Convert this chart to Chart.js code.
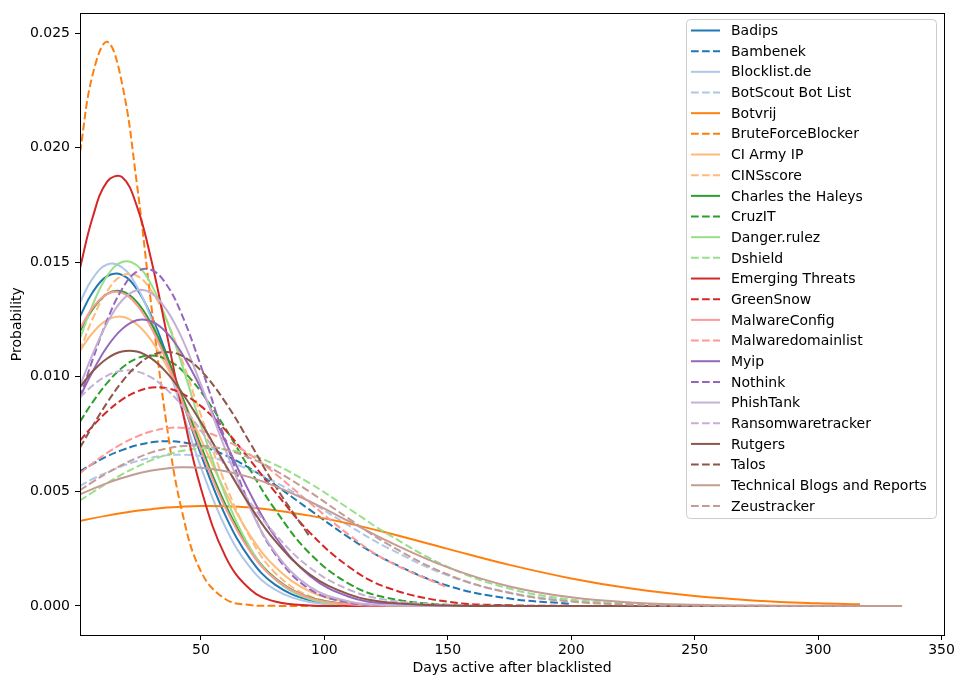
<!DOCTYPE html>
<html>
<head>
<meta charset="utf-8">
<script src="https://cdn.jsdelivr.net/npm/chart.js@4.4.0/dist/chart.umd.min.js"></script>
<style>
  html, body { margin: 0; padding: 0; background: #fff; }
  canvas { display: block; }
</style>
</head>
<body>
<canvas id="chart" width="957" height="678"></canvas>
<script>
// sample days shared by every series (a series stops where its array stops)
const days = [1, 6, 12, 18, 24, 30, 36, 42, 50, 60, 70, 80, 94, 110, 125, 150, 175, 200, 225, 250, 275, 300, 317, 334];

const names = ['Badips', 'Bambenek', 'Blocklist.de', 'BotScout Bot List', 'Botvrij', 'BruteForceBlocker',
  'CI Army IP', 'CINSscore', 'Charles the Haleys', 'CruzIT', 'Danger.rulez', 'Dshield', 'Emerging Threats',
  'GreenSnow', 'MalwareConfig', 'Malwaredomainlist', 'Myip', 'Nothink', 'PhishTank', 'Ransomwaretracker',
  'Rutgers', 'Talos', 'Technical Blogs and Reports', 'Zeustracker'];

const colors = ['#1f77b4', '#1f77b4', '#aec7e8', '#aec7e8', '#ff7f0e', '#ff7f0e', '#ffbb78', '#ffbb78',
  '#2ca02c', '#2ca02c', '#98df8a', '#98df8a', '#d62728', '#d62728', '#ff9896', '#ff9896',
  '#9467bd', '#9467bd', '#c5b0d5', '#c5b0d5', '#8c564b', '#8c564b', '#c49c94', '#c49c94'];

const badips = [0.01263, 0.01367, 0.01439, 0.01445, 0.01383, 0.01263, 0.01099, 0.00912, 0.00660, 0.00392, 0.00204, 0.00093, 0.000247, 0.00004, 0.000005, 0];
const bambenek = [0.00587, 0.00619, 0.00653, 0.00680, 0.00701, 0.00714, 0.00719, 0.00715, 0.00698, 0.00657, 0.00599, 0.00528, 0.00420, 0.00298, 0.00201, 0.00088, 0.00032, 0.00009];
const blocklist = [0.01325, 0.01427, 0.01490, 0.01478, 0.01395, 0.01251, 0.01067, 0.00865, 0.00605, 0.00341, 0.00167, 0.00071, 0.00017, 0.000024, 0.000003, 0];
const botscout = [0.00524, 0.00553, 0.00583, 0.00610, 0.00631, 0.00647, 0.00657, 0.00660, 0.00654, 0.00631, 0.00593, 0.00541, 0.00456, 0.00350, 0.00257, 0.00133, 0.000585, 0.000216, 0.000067];
const botvrij = [0.00371, 0.00382, 0.00394, 0.00405, 0.00415, 0.00422, 0.00429, 0.00433, 0.00436, 0.00435, 0.00429, 0.00417, 0.00394, 0.00359, 0.00320, 0.00249, 0.00179, 0.00120, 0.000745, 0.000429, 0.000230, 0.000114, 0.000068];
const bruteforce = [0.01980, 0.02314, 0.02462, 0.02282, 0.01846, 0.01301, 0.00799, 0.00428, 0.00150, 0.000289, 0.000038, 0.000003, 0, 0, 0];
const ciArmy = [0.01114, 0.01190, 0.01248, 0.01262, 0.01229, 0.01157, 0.01049, 0.00918, 0.00727, 0.00496, 0.00306, 0.00171, 0.000639, 0.000163, 0.000036, 0.000002, 0];
const cinsScore = [0.01113, 0.01250, 0.01374, 0.01441, 0.01441, 0.01374, 0.01250, 0.01083, 0.00832, 0.00530, 0.00297, 0.00145, 0.000428, 0.000077, 0.000011, 0];
const charles = [0.01199, 0.01293, 0.01362, 0.01373, 0.01327, 0.01229, 0.01090, 0.00926, 0.00698, 0.00440, 0.00246, 0.00122, 0.000376, 0.000074, 0.000012, 0];
const cruzit = [0.00804, 0.00887, 0.00973, 0.01039, 0.01080, 0.01093, 0.01076, 0.01032, 0.00935, 0.00773, 0.00592, 0.00421, 0.00230, 0.000966, 0.000360, 0.000047, 0.000004];
const dangerRulez = [0.01167, 0.01311, 0.01440, 0.01501, 0.01487, 0.01400, 0.01251, 0.01063, 0.00790, 0.00479, 0.00252, 0.00115, 0.000302, 0.000047, 0.000006];
const dshield = [0.00460, 0.00495, 0.00536, 0.00574, 0.00607, 0.00636, 0.00659, 0.00676, 0.00687, 0.00683, 0.00659, 0.00617, 0.00536, 0.00424, 0.00318, 0.00170, 0.000753, 0.000277, 0.000085];
const emerging = [0.01475, 0.01691, 0.01852, 0.01872, 0.01746, 0.01504, 0.01195, 0.00877, 0.00512, 0.00214, 0.000716, 0.000192, 0.000021, 0.000001, 0];
const greenSnow = [0.00721, 0.00783, 0.00848, 0.00900, 0.00935, 0.00953, 0.00950, 0.00929, 0.00872, 0.00766, 0.00635, 0.00498, 0.00321, 0.00170, 0.000816, 0.000181, 0.000028, 0.000003];
const malwareConfig = [0.01211, 0.01300, 0.01361, 0.01366, 0.01314, 0.01211, 0.01070, 0.00906, 0.00679, 0.00426, 0.00237, 0.00118, 0.000360, 0.000070, 0.000012, 0];
const malwareDomain = [0.00579, 0.00621, 0.00668, 0.00707, 0.00739, 0.00762, 0.00775, 0.00778, 0.00765, 0.00723, 0.00659, 0.00578, 0.00451, 0.00310, 0.00200, 0.000794];
const myip = [0.00913, 0.01021, 0.01131, 0.01208, 0.01247, 0.01242, 0.01194, 0.01107, 0.00949, 0.00715, 0.00489, 0.00303, 0.00132, 0.000400, 0.000104, 0.000007];
const nothink = [0.00909, 0.01071, 0.01247, 0.01382, 0.01459, 0.01466, 0.01403, 0.01278, 0.01046, 0.00720, 0.00433, 0.00227, 0.000732, 0.000145, 0.000023];
const phishTank = [0.00961, 0.01096, 0.01235, 0.01333, 0.01378, 0.01364, 0.01293, 0.01175, 0.00966, 0.00680, 0.00424, 0.00235, 0.000838, 0.000194, 0.000037, 0.000001, 0];
const ransomware = [0.00910, 0.00961, 0.01005, 0.01026, 0.01023, 0.00996, 0.00946, 0.00878, 0.00765, 0.00608, 0.00451, 0.00314, 0.00168, 0.000706, 0.000267, 0.000038, 0.000004];
const rutgers = [0.00955, 0.01022, 0.01080, 0.01110, 0.01110, 0.01079, 0.01019, 0.00936, 0.00801, 0.00614, 0.00435, 0.00285, 0.00138, 0.000503, 0.000162, 0.000017, 0.000001, 0, 0, 0, 0, 0, 0, 0];
const talos = [0.00691, 0.00783, 0.00887, 0.00978, 0.01048, 0.01093, 0.01108, 0.01093, 0.01027, 0.00887, 0.00709, 0.00525, 0.00303];
const technical = [0.00487, 0.00510, 0.00536, 0.00558, 0.00577, 0.00591, 0.00600, 0.00605, 0.00603, 0.00588, 0.00561, 0.00523, 0.00456, 0.00369, 0.00286, 0.00168, 0.000849, 0.000373, 0.000142, 0.000047, 0.000013, 0.000003, 0.000001, 0];
const zeustracker = [0.00505, 0.00540, 0.00580, 0.00615, 0.00645, 0.00670, 0.00687, 0.00697, 0.00699, 0.00682, 0.00645, 0.00592, 0.00498, 0.00380, 0.00274, 0.00137, 0.000562, 0.000191, 0.000053, 0.000012, 0.000002, 0, 0, 0];

const series = [badips, bambenek, blocklist, botscout, botvrij, bruteforce, ciArmy, cinsScore, charles, cruzit,
  dangerRulez, dshield, emerging, greenSnow, malwareConfig, malwareDomain, myip, nothink, phishTank, ransomware,
  rutgers, talos, technical, zeustracker];

const xTicks = [50, 100, 150, 200, 250, 300, 350];
const yTicks = [0, 0.005, 0.010, 0.015, 0.020, 0.025];

const FONT = "'DejaVu Sans', 'Liberation Sans', sans-serif";
const DASH = [7.7, 3.3];

// odd entries are the dashed member of each colour pair
const datasets = series.map((vals, i) => ({
  label: names[i],
  data: vals.map((v, k) => ({ x: days[k], y: v })),
  borderColor: colors[i],
  backgroundColor: colors[i],
  borderWidth: 2,
  borderDash: i % 2 ? DASH : [],
  pointRadius: 0,
  fill: false,
  tension: 0.4,
  order: series.length - 1 - i, // later series on top, like matplotlib
}));

const framePlugin = {
  id: 'frame',
  afterDraw(chart) {
    const { ctx, chartArea: a } = chart;
    ctx.save();
    ctx.strokeStyle = '#000';
    ctx.lineWidth = 1;
    ctx.strokeRect(Math.round(a.left) + 0.5, Math.round(a.top) + 0.5, Math.round(a.right - a.left), Math.round(a.bottom - a.top));

    // legend box, upper right
    const bx = 686, by = 19, bw = 250, bh = 499, r = 4;
    ctx.beginPath();
    ctx.roundRect(bx + 0.5, by + 0.5, bw, bh, r);
    ctx.fillStyle = 'rgba(255,255,255,0.8)';
    ctx.fill();
    ctx.strokeStyle = '#cccccc';
    ctx.stroke();

    ctx.font = '14px ' + FONT;
    ctx.textBaseline = 'middle';
    ctx.textAlign = 'left';
    names.forEach((n, i) => {
      const y = 30.5 + i * 20.67;
      ctx.beginPath();
      ctx.setLineDash(i % 2 ? DASH : []);
      ctx.strokeStyle = colors[i];
      ctx.lineWidth = 2;
      ctx.moveTo(691, y);
      ctx.lineTo(720, y);
      ctx.stroke();
      ctx.setLineDash([]);
      ctx.fillStyle = '#000';
      ctx.fillText(n, 731, y + 1);
    });
    ctx.restore();
  }
};

new Chart(document.getElementById('chart'), {
  type: 'line',
  data: { datasets },
  plugins: [framePlugin],
  options: {
    responsive: false,
    animation: false,
    devicePixelRatio: 1,
    layout: { padding: { left: 0, right: 13, top: 12, bottom: 0 } },
    plugins: { legend: { display: false }, tooltip: { enabled: false } },
    scales: {
      x: {
        type: 'linear',
        min: 1,
        max: 351,
        afterFit: (s) => { s.height = 43; },
        afterBuildTicks: (s) => { s.ticks = xTicks.map((v) => ({ value: v })); },
        grid: { drawOnChartArea: false, drawTicks: true, tickLength: 5, color: '#000' },
        border: { display: false },
        ticks: { color: '#000', padding: 2, maxRotation: 0, font: { family: FONT, size: 14 } },
        title: { display: true, text: 'Days active after blacklisted', color: '#000', padding: { top: 0, bottom: 1 }, font: { family: FONT, size: 14 } },
      },
      y: {
        type: 'linear',
        min: -0.00127,
        max: 0.02586,
        afterFit: (s) => { s.width = 80; },
        afterBuildTicks: (s) => { s.ticks = yTicks.map((v) => ({ value: v })); },
        grid: { drawOnChartArea: false, drawTicks: true, tickLength: 5, color: '#000' },
        border: { display: false },
        ticks: { color: '#000', padding: 5, font: { family: FONT, size: 14 }, callback: (v) => v.toFixed(3) },
        title: { display: true, text: 'Probability', color: '#000', padding: { top: 9, bottom: 0 }, font: { family: FONT, size: 14 } },
      },
    },
  },
});
</script>
</body>
</html>
